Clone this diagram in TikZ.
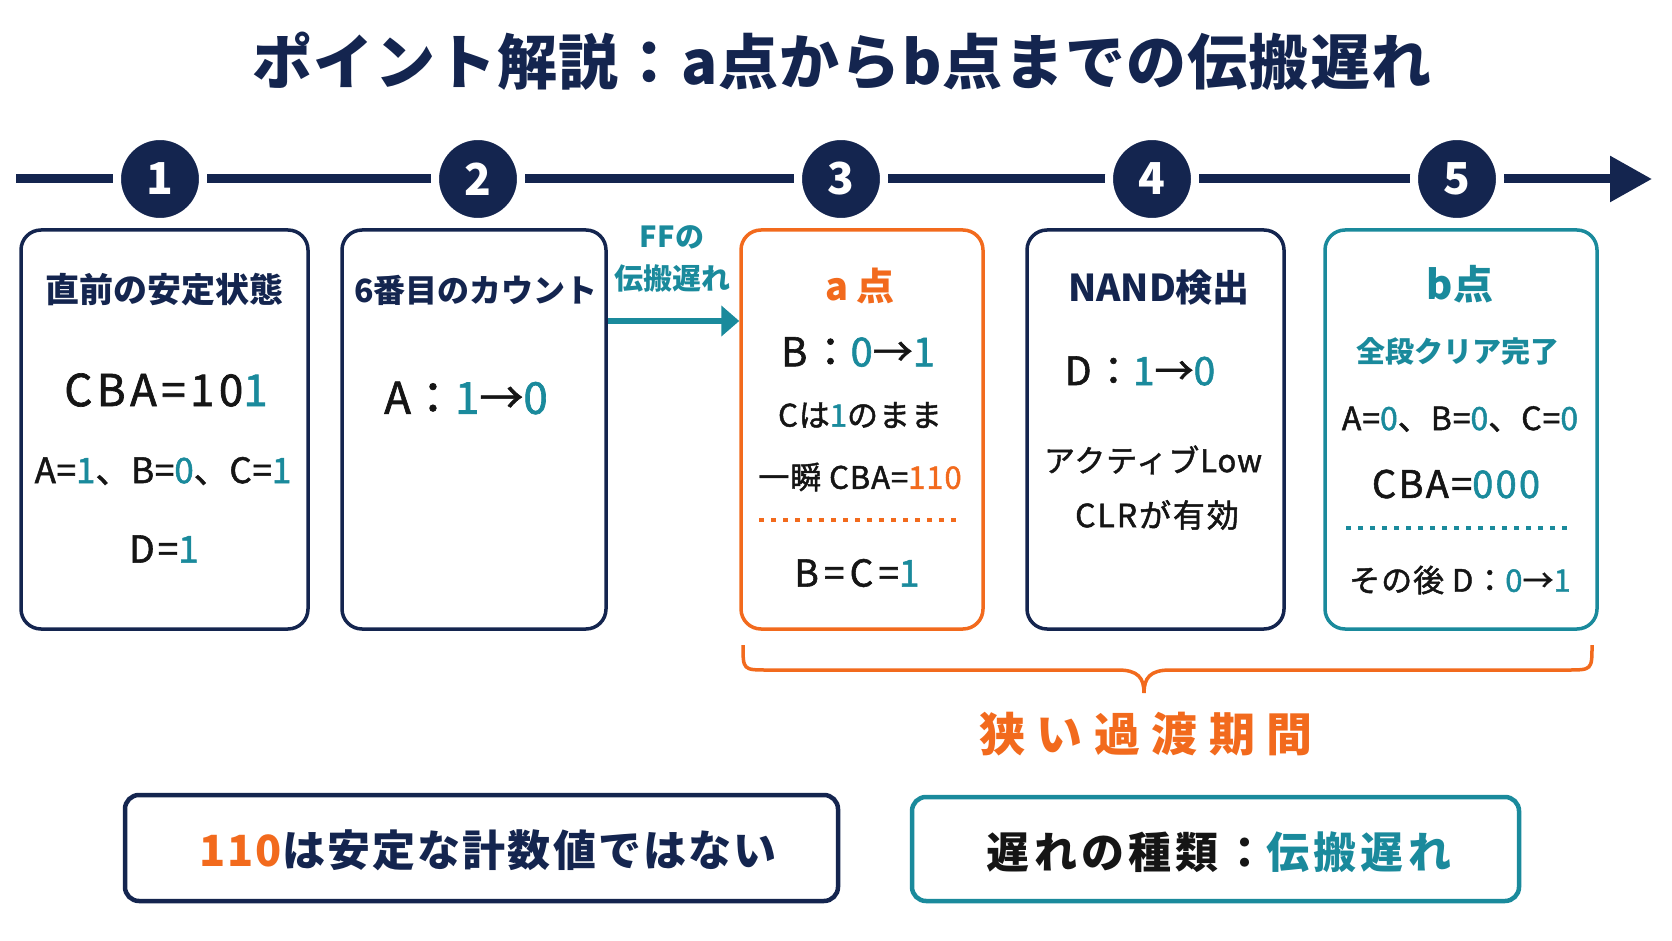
\documentclass[tikz,border=0pt]{standalone}
\usepackage{fontspec}
\setmainfont{Noto Sans CJK JP}
\newfontfamily\medf{Noto Sans CJK JP}[FakeBold=1.5]
\usetikzlibrary{arrows.meta}
\definecolor{navy}{HTML}{14254F}
\definecolor{tealc}{HTML}{1A8A9C}
\definecolor{orng}{HTML}{F26A1D}
\definecolor{ink}{HTML}{151515}
\newcommand{\tlc}[1]{\textcolor{tealc}{#1}}
\newcommand{\orc}[1]{\textcolor{orng}{#1}}
\newcommand{\setfs}[1]{\fontsize{#1}{#1}\selectfont}
\newcommand{\lsp}[1]{\addfontfeatures{LetterSpace=#1}}
\tikzset{
  stepcirc/.style={circle, fill=navy, draw=white, line width=8pt, minimum size=86pt, inner sep=0pt, text=white, font=\bfseries\setfs{44}},
  cardbox/.style={draw=navy, line width=3.5pt, rounded corners=20pt, fill=white, minimum height=399pt, inner sep=0pt},
  btitle/.style={font=\bfseries\setfs{34}, text=navy, inner sep=0pt},
  val/.style={font=\medf\setfs{37}\lsp{8}, text=ink, inner sep=0pt},
  small/.style={font=\medf\setfs{31}\lsp{3}, text=ink, inner sep=0pt},
  botbox/.style={line width=4.5pt, rounded corners=14pt, fill=white, inner sep=0pt},
  dotsep/.style={line width=3.5pt, dash pattern=on 5pt off 7pt},
}
\begin{document}
\begin{tikzpicture}[x=1pt,y=-1pt]
\useasboundingbox[fill=white] (0,0) rectangle (1672,941);

% title
\node[font=\bfseries\setfs{60}\lsp{2}, text=navy, inner sep=0pt] (title) at (842,61) {ポイント解説：a点からb点までの伝搬遅れ};

% timeline
\coordinate (tls) at (16,179);
\coordinate (tle) at (1652,179);
\draw[navy, line width=9pt, -{Triangle[length=42pt,width=44pt]}] (tls) -- (tle);
\node[stepcirc] (c1) at (160,179) {1};
\node[stepcirc] (c2) at (478,179) {2};
\node[stepcirc] (c3) at (841,179) {3};
\node[stepcirc] (c4) at (1152,179) {4};
\node[stepcirc] (c5) at (1457,179) {5};

% cards
\node[cardbox, minimum width=287pt] (b1) at (164.5,429.5) {};
\node[cardbox, minimum width=264pt] (b2) at (474,429.5) {};
\node[cardbox, draw=orng, minimum width=242pt] (b3) at (862,429.5) {};
\node[cardbox, minimum width=257pt] (b4) at (1155.5,429.5) {};
\node[cardbox, draw=tealc, minimum width=272pt] (b5) at (1461,429.5) {};

% card 1
\node[btitle] (t1) at (164.5,290) {直前の安定状態};
\node[val, font=\medf\setfs{44}\lsp{10}] (v11) at (166,390) {CBA=10\tlc{1}};
\node[val, font=\medf\setfs{35}\lsp{2}] (v12) at (163,471) {A=\tlc{1}、B=\tlc{0}、C=\tlc{1}};
\node[val] (v13) at (164,549) {D=\tlc{1}};

% card 2
\node[btitle, font=\bfseries\setfs{32}] (t2) at (476,290) {6番目のカウント};
\node[val, font=\medf\setfs{44}] (v21) at (466,398) {A：\tlc{1}→\tlc{0}};

% FF propagation arrow
\node[font=\bfseries\setfs{29}, text=tealc, inner sep=0pt] (ff1) at (672,237) {FFの};
\node[font=\bfseries\setfs{29}, text=tealc, inner sep=0pt] (ff2) at (672,279) {伝搬遅れ};
\draw[tealc, line width=6.5pt, -{Triangle[length=18pt,width=30pt]}] (b2.east |- 0,321) -- (b3.west |- 0,321);

% card 3
\node[btitle, text=orng, font=\bfseries\setfs{38}] (t3) at (860,286) {a 点};
\node[val, font=\medf\setfs{40}\lsp{8}] (v31) at (858,352) {B：\tlc{0}→\tlc{1}};
\node[small] (v32) at (860,415) {Cは\tlc{1}のまま};
\node[small] (v33) at (860,477) {一瞬 CBA=\orc{110}};
\draw[orng, dotsep] (759,520) -- (962,520);
\node[val, font=\medf\setfs{37}\lsp{14}] (v34) at (857,573) {B=C=\tlc{1}};

% card 4
\node[btitle, font=\bfseries\setfs{37}] (t4) at (1159,288) {NAND検出};
\node[val, font=\medf\setfs{39}\lsp{6}] (v41) at (1140,371) {D：\tlc{1}→\tlc{0}};
\node[small] (v42) at (1153,460) {アクティブLow};
\node[small, font=\medf\setfs{32}\lsp{6}] (v43) at (1157,515) {CLRが有効};

% card 5
\node[btitle, text=tealc, font=\bfseries\setfs{40}] (t5) at (1460,284) {b点};
\node[btitle, text=tealc, font=\bfseries\setfs{29}] (v51) at (1458,351) {全段クリア完了};
\node[small, font=\medf\setfs{32}\lsp{3}] (v52) at (1460,419) {A=\tlc{0}、B=\tlc{0}、C=\tlc{0}};
\node[val, font=\medf\setfs{38}\lsp{6}] (v53) at (1456,484) {CBA=\tlc{000}};
\draw[tealc, dotsep] (1346,528) -- (1567,528);
\node[small] (v54) at (1460,580) {その後 D：\tlc{0}→\tlc{1}};

% brace
\draw[orng, line width=3.5pt] (743,645) .. controls (743,670) .. (768,670) -- (1118,670)
  .. controls (1138,670) and (1144,678) .. (1144,693)
  .. controls (1144,678) and (1150,670) .. (1170,670) -- (1567,670)
  .. controls (1592,670) .. (1592,645);
\node[font=\bfseries\setfs{46}\lsp{25}, text=orng, inner sep=0pt] (narrow) at (1146,734) {狭い過渡期間};

% bottom boxes
\node[botbox, draw=navy, minimum width=713pt, minimum height=106pt] (bl) at (481.5,848) {};
\node[font=\bfseries\setfs{43}\lsp{5}, text=navy, inner sep=0pt] (blt) at (488,850) {\orc{110}は安定な計数値ではない};
\node[botbox, draw=tealc, minimum width=607pt, minimum height=104pt] (br) at (1215.5,849) {};
\node[font=\bfseries\setfs{43}\lsp{10}, text=ink, inner sep=0pt] (brt) at (1219,852) {遅れの種類：\tlc{伝搬遅れ}};
\end{tikzpicture}
\end{document}
